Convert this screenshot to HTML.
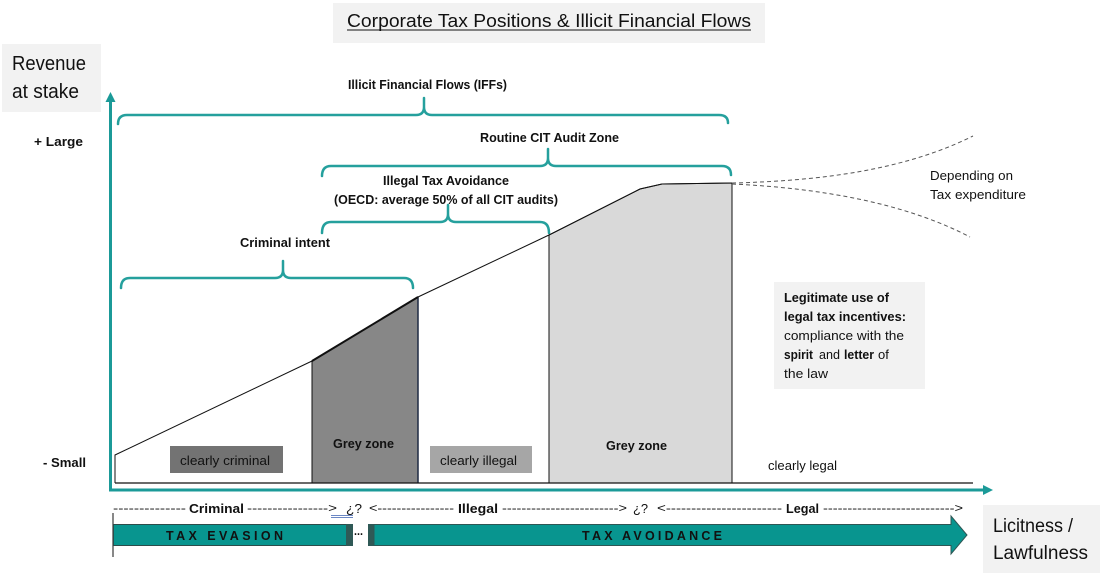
<!DOCTYPE html>
<html><head><meta charset="utf-8"><style>
html,body{margin:0;padding:0;background:#fff;}
svg{display:block;}
text{font-family:"Liberation Sans",sans-serif;fill:#111;}
.b{font-weight:bold;}
</style></head><body>
<svg width="1102" height="576" viewBox="0 0 1102 576" xmlns="http://www.w3.org/2000/svg">
<!-- title -->
<rect x="333" y="3" width="432" height="40" fill="#f2f2f2"/>
<text x="347" y="27" font-size="18" textLength="404" lengthAdjust="spacingAndGlyphs">Corporate Tax Positions &amp; Illicit Financial Flows</text>
<line x1="347" y1="30" x2="751" y2="30" stroke="#111" stroke-width="1"/>

<!-- revenue box -->
<rect x="2" y="44" width="99" height="68" fill="#f2f2f2"/>
<text x="12" y="70" font-size="20" textLength="74" lengthAdjust="spacingAndGlyphs">Revenue</text>
<text x="12" y="98" font-size="20" textLength="67" lengthAdjust="spacingAndGlyphs">at stake</text>

<text class="b" x="34" y="146" font-size="13" textLength="49" lengthAdjust="spacingAndGlyphs">+ Large</text>
<text class="b" x="43" y="467" font-size="13" textLength="43" lengthAdjust="spacingAndGlyphs">- Small</text>

<!-- braces -->
<g fill="none" stroke="#25a09d" stroke-width="2.5" stroke-linecap="round">
<path d="M118,124 Q118,115 127,115 L416,115 Q424,115 424,107 L424,98 M424,107 Q424,115 432,115 L719,115 Q728,115 728,123"/>
<path d="M322,176 Q322,166 331,166 L540,166 Q548,166 548,158 L548,149 M548,158 Q548,166 556,166 L722,166 Q731,166 731,175"/>
<path d="M322,233 Q322,222 331,222 L440,222 Q448,222 448,214 L448,205 M448,214 Q448,222 456,222 L540,222 Q549,222 549,233"/>
<path d="M121,288 Q121,278 130,278 L275,278 Q283,278 283,270 L283,261 M283,270 Q283,278 291,278 L404,278 Q413,278 413,288"/>
</g>

<text class="b" x="348" y="89" font-size="13" textLength="159" lengthAdjust="spacingAndGlyphs">Illicit Financial Flows (IFFs)</text>
<text class="b" x="480" y="142" font-size="13" textLength="139" lengthAdjust="spacingAndGlyphs">Routine CIT Audit Zone</text>
<text class="b" x="383" y="185" font-size="13" textLength="126" lengthAdjust="spacingAndGlyphs">Illegal Tax Avoidance</text>
<text class="b" x="334" y="204" font-size="13" textLength="224" lengthAdjust="spacingAndGlyphs">(OECD: average 50% of all CIT audits)</text>
<text class="b" x="240" y="247" font-size="13" textLength="90" lengthAdjust="spacingAndGlyphs">Criminal intent</text>

<!-- shapes -->
<polygon points="549,483 549,235 640,189 662,184 732,183 732,483" fill="#d9d9d9" stroke="#111" stroke-width="1"/>
<polygon points="312,483 312,361 418,297 418,483" fill="#878787" stroke="none"/>
<line x1="312" y1="361" x2="312" y2="483" stroke="#111" stroke-width="1"/>
<line x1="418" y1="297" x2="418" y2="483" stroke="#1f2a44" stroke-width="1.5"/>
<line x1="312" y1="361" x2="418" y2="297" stroke="#111" stroke-width="2"/>
<polyline points="115,483 115,455 312,361 418,297 549,235 640,189 662,184 732,183" fill="none" stroke="#111" stroke-width="1"/>
<line x1="115" y1="483" x2="973" y2="483" stroke="#111" stroke-width="1.2"/>

<!-- dashed curves -->
<path d="M732,183 C820,181 905,170 973,136" fill="none" stroke="#555" stroke-width="1" stroke-dasharray="4,3"/>
<path d="M732,184 C820,188 905,203 970,237" fill="none" stroke="#555" stroke-width="1" stroke-dasharray="4,3"/>
<text x="930" y="180" font-size="13" textLength="83" lengthAdjust="spacingAndGlyphs">Depending on</text>
<text x="930" y="199" font-size="13" textLength="96" lengthAdjust="spacingAndGlyphs">Tax expenditure</text>

<!-- small boxes -->
<rect x="170" y="446" width="113" height="27" fill="#737373"/>
<text x="180" y="465" font-size="13" textLength="90" lengthAdjust="spacingAndGlyphs">clearly criminal</text>
<rect x="430" y="446" width="102" height="27" fill="#a6a6a6"/>
<text x="440" y="465" font-size="13" textLength="77" lengthAdjust="spacingAndGlyphs">clearly illegal</text>
<text class="b" x="333" y="448" font-size="13" textLength="61" lengthAdjust="spacingAndGlyphs">Grey zone</text>
<text class="b" x="606" y="450" font-size="13" textLength="61" lengthAdjust="spacingAndGlyphs">Grey zone</text>
<text x="768" y="470" font-size="13" textLength="69" lengthAdjust="spacingAndGlyphs">clearly legal</text>

<!-- legitimate box -->
<rect x="774" y="282" width="151" height="107" fill="#f2f2f2"/>
<text class="b" x="784" y="302" font-size="13" textLength="105" lengthAdjust="spacingAndGlyphs">Legitimate use of</text>
<text class="b" x="784" y="321" font-size="13" textLength="122" lengthAdjust="spacingAndGlyphs">legal tax incentives:</text>
<text x="784" y="340" font-size="13" textLength="120" lengthAdjust="spacingAndGlyphs">compliance with the</text>
<text class="b" x="784" y="359" font-size="13" textLength="29" lengthAdjust="spacingAndGlyphs">spirit</text>
<text x="819" y="359" font-size="13" textLength="21" lengthAdjust="spacingAndGlyphs">and</text>
<text class="b" x="844" y="359" font-size="13" textLength="30" lengthAdjust="spacingAndGlyphs">letter</text>
<text x="878" y="359" font-size="13">of</text>
<text x="784" y="378" font-size="13" textLength="44" lengthAdjust="spacingAndGlyphs">the law</text>

<!-- axes -->
<g stroke="#1b9a98" stroke-width="3" fill="none">
<line x1="110.5" y1="491" x2="110.5" y2="100"/>
<line x1="109" y1="490" x2="985" y2="490"/>
</g>
<polygon points="110.5,92 105.5,102 115.5,102" fill="#1b9a98"/>
<polygon points="993,490 983,485 983,495" fill="#1b9a98"/>

<!-- dashed legend row -->
<g font-size="12">
<text x="113" y="512" textLength="73" lengthAdjust="spacingAndGlyphs">--------------</text>
<text class="b" x="189" y="513" font-size="13" textLength="55" lengthAdjust="spacingAndGlyphs">Criminal</text>
<text x="247" y="512" textLength="90" lengthAdjust="spacingAndGlyphs">----------------&gt;</text>
<text x="346" y="513" font-size="13" textLength="16" lengthAdjust="spacingAndGlyphs">¿?</text>
<text x="369" y="512" textLength="85" lengthAdjust="spacingAndGlyphs">&lt;----------------</text>
<text class="b" x="458" y="513" font-size="13" textLength="40" lengthAdjust="spacingAndGlyphs">Illegal</text>
<text x="502" y="512" textLength="125" lengthAdjust="spacingAndGlyphs">------------------------&gt;</text>
<text x="633" y="513" font-size="13" textLength="15" lengthAdjust="spacingAndGlyphs">¿?</text>
<text x="657" y="512" textLength="125" lengthAdjust="spacingAndGlyphs">&lt;-----------------------</text>
<text class="b" x="786" y="513" font-size="13" textLength="33" lengthAdjust="spacingAndGlyphs">Legal</text>
<text x="823" y="512" textLength="140" lengthAdjust="spacingAndGlyphs">---------------------------&gt;</text>
</g>
<line x1="331" y1="515.5" x2="353" y2="515.5" stroke="#3a5fb0" stroke-width="0.8"/>
<line x1="331" y1="517.5" x2="353" y2="517.5" stroke="#3a5fb0" stroke-width="0.8"/>

<!-- bars -->
<line x1="113" y1="513" x2="113" y2="557" stroke="#111" stroke-width="1"/>
<rect x="113.5" y="524.5" width="233" height="21" fill="#08958f" stroke="#2d4c4a" stroke-width="1"/>
<rect x="346" y="524" width="7" height="22" fill="#2f5956"/>
<text class="b" x="354" y="535" font-size="12" textLength="9" lengthAdjust="spacingAndGlyphs">...</text>
<rect x="368" y="524" width="6" height="22" fill="#2f5956"/>
<polygon points="374,524.5 951,524.5 951,516 967,535 951,554 951,545.5 374,545.5" fill="#08958f" stroke="#2e5654" stroke-width="1"/>
<text class="b" x="166" y="540" font-size="12.5" textLength="117" lengthAdjust="spacing" fill="#1a1a1a">TAX EVASION</text>
<text class="b" x="582" y="540" font-size="12.5" textLength="140" lengthAdjust="spacing" fill="#1a1a1a">TAX AVOIDANCE</text>

<!-- licitness box -->
<rect x="983" y="505" width="117" height="68" fill="#f2f2f2"/>
<text x="993" y="532" font-size="19" textLength="80" lengthAdjust="spacingAndGlyphs">Licitness /</text>
<text x="993" y="559" font-size="19" textLength="95" lengthAdjust="spacingAndGlyphs">Lawfulness</text>
</svg>
</body></html>
